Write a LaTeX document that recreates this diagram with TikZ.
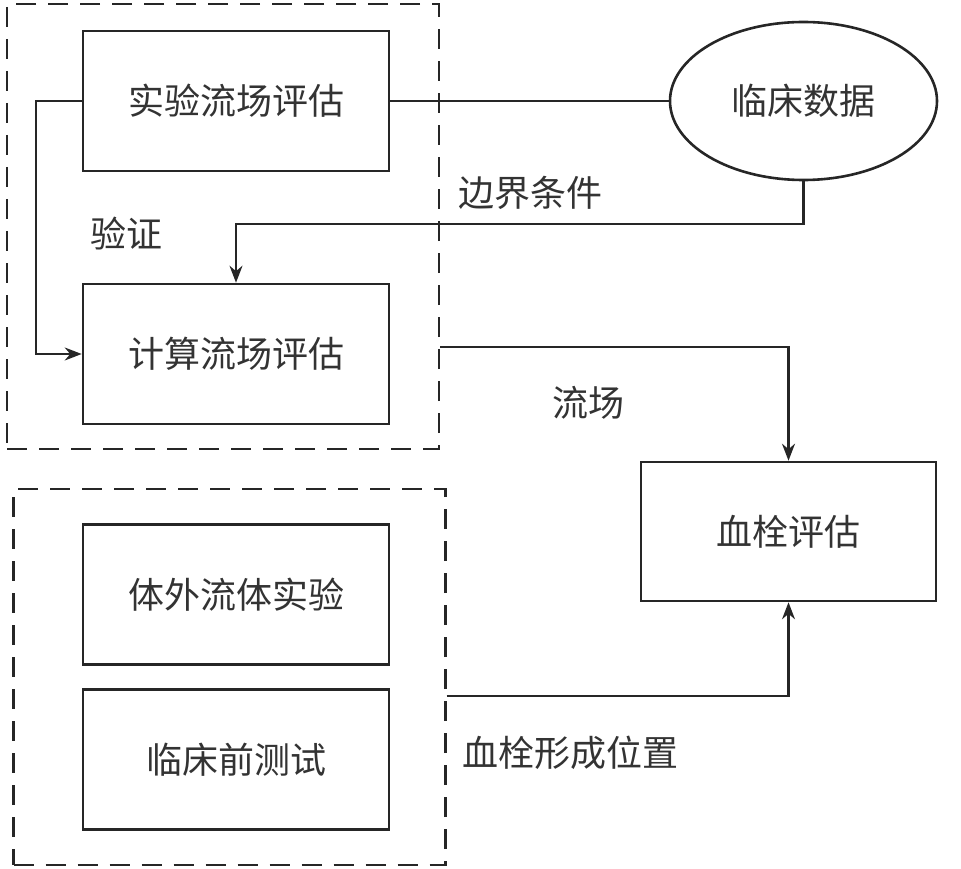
\documentclass[tikz,border=0pt]{standalone}
\usepackage{fontspec}
\newfontfamily\cjk{Noto Sans CJK SC}
\usetikzlibrary{shapes.geometric,arrows.meta}
\definecolor{ink}{HTML}{262626}
\definecolor{txt}{HTML}{333333}
\begin{document}
\begin{tikzpicture}[x=1pt,y=-1pt,
  every node/.style={font=\cjk\fontsize{36}{40}\selectfont, text=txt},
  box/.style={draw=ink, line width=2.6pt, minimum width=306pt, minimum height=140pt, inner sep=0pt},
  cbox/.style={draw=ink, line width=2.6pt, minimum width=295pt, minimum height=139pt, inner sep=0pt},
  grp/.style={draw=ink, line width=2.4pt, dash pattern=on 20pt off 12pt, inner sep=0pt},
  conn/.style={draw=ink, line width=2.2pt},
  arr/.style={conn, -{Stealth[length=17pt,width=13pt]}},
  lbl/.style={inner sep=0pt}
]
\useasboundingbox (0,0) rectangle (961,869);
% groups
\node[grp, minimum width=432pt, minimum height=445pt] (g1) at (223,226.5) {};
\node[grp, minimum width=432pt, minimum height=376pt] (g2) at (229.5,677) {};
% boxes
\node[box] (A) at (236,101) {实验流场评估};
\node[box] (B) at (236,354) {计算流场评估};
\node[box] (D) at (236,594.5) {体外流体实验};
\node[box] (F) at (236,759.5) {临床前测试};
\node[cbox] (C) at (788.5,531.5) {血栓评估};
\node[draw=ink, line width=2.6pt, ellipse, minimum width=267pt, minimum height=158pt, inner sep=0pt] (E) at (803.5,101) {临床数据};
% labels
\node[lbl] (lv) at (126,234) {验证};
\node[lbl] (lb) at (530,193) {边界条件};
\node[lbl] (lf) at (588,403) {流场};
\node[lbl] (lp) at (570,753) {血栓形成位置};
% connectors
\draw[conn] (A.east) -- (E.west);
\draw[arr] (E.south) |- (236,224) -- (B.north);
\draw[arr] (A.west) -| (36,354) -- (B.west);
\coordinate (fs) at (g1.east |- 0,347);
\draw[arr] (fs) -| (C.north);
\coordinate (ps) at (g2.east |- 0,696);
\draw[arr] (ps) -| (C.south);
\end{tikzpicture}
\end{document}
